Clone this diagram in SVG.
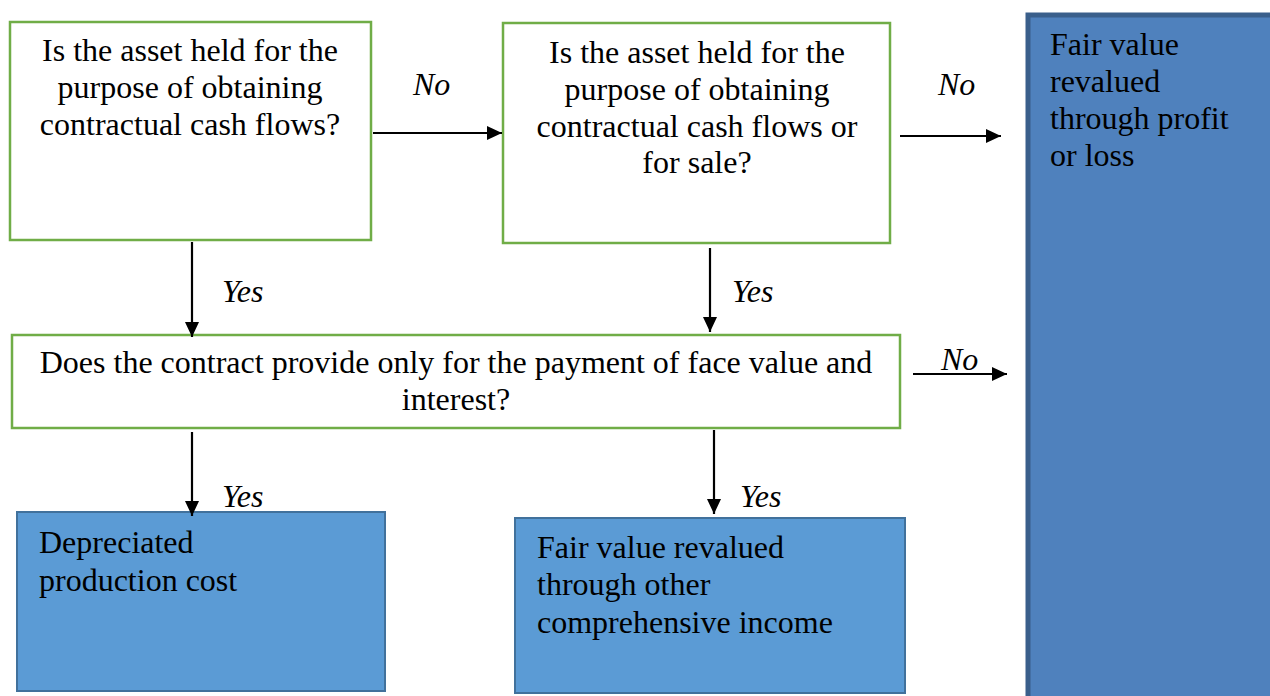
<svg xmlns="http://www.w3.org/2000/svg" width="1270" height="696" viewBox="0 0 1270 696">
<style>
.q{fill:#fff;stroke:#70AD47;stroke-width:2.5}
.r{fill:#5B9BD5;stroke:#41719C;stroke-width:2}
.t{font-family:"Liberation Serif","Times New Roman",serif;font-size:32px;fill:#000}
.c{text-anchor:middle}
.l{font-family:"Liberation Serif","Times New Roman",serif;font-size:32px;font-style:italic;fill:#000}
.a{stroke:#000;stroke-width:2.2;fill:none;marker-end:url(#ah)}
</style>
<defs>
<marker id="ah" markerWidth="15" markerHeight="14" refX="15" refY="7" orient="auto" markerUnits="userSpaceOnUse">
<path d="M0,0 L15,7 L0,14 Z" fill="#000"/>
</marker>
</defs>
<rect width="1270" height="696" fill="#fff"/>
<g id="q1">
<rect class="q" x="10" y="22" width="361" height="218"/>
<text class="t c" x="190" y="61">Is the asset held for the</text>
<text class="t c" x="190" y="98">purpose of obtaining</text>
<text class="t c" x="190" y="135">contractual cash flows?</text>
</g>
<g id="q2">
<rect class="q" x="503" y="23" width="387" height="220"/>
<text class="t c" x="697" y="63">Is the asset held for the</text>
<text class="t c" x="697" y="100">purpose of obtaining</text>
<text class="t c" x="697" y="137">contractual cash flows or</text>
<text class="t c" x="697" y="173">for sale?</text>
</g>
<g id="fvpl">
<rect x="1028" y="15" width="250" height="690" fill="#4F81BD" stroke="#3A5F8B" stroke-width="5"/>
<text class="t" x="1050" y="55">Fair value</text>
<text class="t" x="1050" y="92">revalued</text>
<text class="t" x="1050" y="129">through profit</text>
<text class="t" x="1050" y="166">or loss</text>
</g>
<g id="q3">
<rect class="q" x="12" y="335" width="888" height="93"/>
<text class="t c" x="456" y="373">Does the contract provide only for the payment of face value and</text>
<text class="t c" x="456" y="410">interest?</text>
</g>
<g id="dpc">
<rect class="r" x="17" y="512" width="368" height="179"/>
<text class="t" x="39" y="553">Depreciated</text>
<text class="t" x="39" y="591">production cost</text>
</g>
<g id="fvoci">
<rect class="r" x="515" y="518" width="390" height="175"/>
<text class="t" x="537" y="558">Fair value revalued</text>
<text class="t" x="537" y="595">through other</text>
<text class="t" x="537" y="633">comprehensive income</text>
</g>
<g id="connectors">
<line class="a" x1="373" y1="133" x2="502" y2="133"/>
<line class="a" x1="900" y1="136" x2="1001" y2="136"/>
<line class="a" x1="192" y1="242" x2="192" y2="337"/>
<line class="a" x1="710" y1="248" x2="710" y2="332"/>
<line class="a" x1="913" y1="374" x2="1007" y2="374"/>
<line class="a" x1="192" y1="432" x2="192" y2="516"/>
<line class="a" x1="714" y1="430" x2="714" y2="514"/>
<text class="l" x="413" y="95">No</text>
<text class="l" x="938" y="95">No</text>
<text class="l" x="222" y="302">Yes</text>
<text class="l" x="732" y="302">Yes</text>
<text class="l" x="941" y="370">No</text>
<text class="l" x="222" y="507">Yes</text>
<text class="l" x="740" y="507">Yes</text>
</g>
</svg>
